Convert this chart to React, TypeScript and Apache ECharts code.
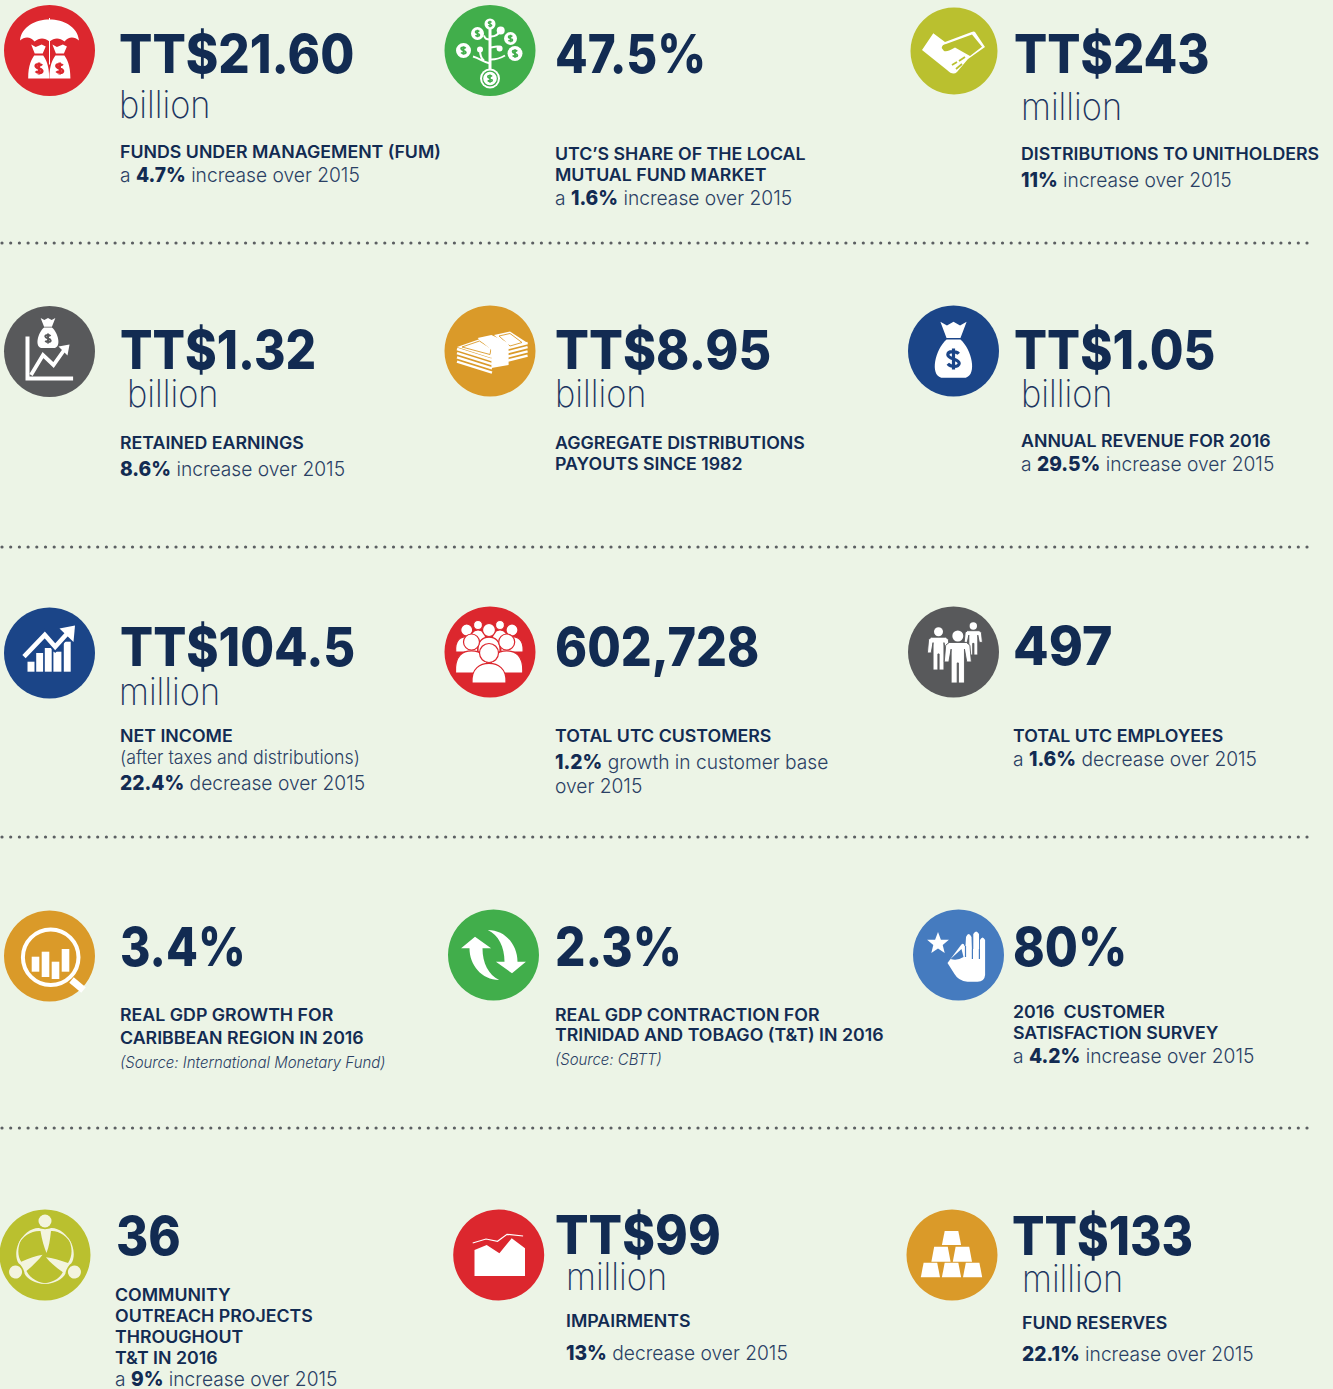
import React, { useEffect, useRef } from "react";
import * as echarts from "echarts";

// ---------- content ----------
const headlines = ["TT$21.60","47.5%","TT$243","TT$1.32","TT$8.95","TT$1.05","TT$104.5","602,728","497","3.4%","2.3%","80%","36","TT$99","TT$133"];
const units = ["billion","","million","billion","billion","billion","million","","","","","","","million","million"];
const titleLines: string[][] = [
  ["FUNDS UNDER MANAGEMENT (FUM)"],
  ["UTC’S SHARE OF THE LOCAL","MUTUAL FUND MARKET"],
  ["DISTRIBUTIONS TO UNITHOLDERS"],
  ["RETAINED EARNINGS"],
  ["AGGREGATE DISTRIBUTIONS","PAYOUTS SINCE 1982"],
  ["ANNUAL REVENUE FOR 2016"],
  ["NET INCOME"],
  ["TOTAL UTC CUSTOMERS"],
  ["TOTAL UTC EMPLOYEES"],
  ["REAL GDP GROWTH FOR","CARIBBEAN REGION IN 2016"],
  ["REAL GDP CONTRACTION FOR","TRINIDAD AND TOBAGO (T&T) IN 2016"],
  ["2016  CUSTOMER","SATISFACTION SURVEY"],
  ["COMMUNITY","OUTREACH PROJECTS","THROUGHOUT","T&T IN 2016"],
  ["IMPAIRMENTS"],
  ["FUND RESERVES"],
];
const noteLines: string[][] = [
  ["a {b|4.7%} increase over 2015"],
  ["a {b|1.6%} increase over 2015"],
  ["{b|11%} increase over 2015"],
  ["{b|8.6%} increase over 2015"],
  [],
  ["a {b|29.5%} increase over 2015"],
  ["{s|(after taxes and distributions)}","{b|22.4%} decrease over 2015"],
  ["{b|1.2%} growth in customer base","over 2015"],
  ["a {b|1.6%} decrease over 2015"],
  ["{i|(Source: International Monetary Fund)}"],
  ["{i|(Source: CBTT)}"],
  ["a {b|4.2%} increase over 2015"],
  ["a {b|9%} increase over 2015"],
  ["{b|13%} decrease over 2015"],
  ["{b|22.1%} increase over 2015"],
];

// ---------- layout (left x, centre y of each line) ----------
const bigX = [119,555,1014,120,555,1014,120,555,1013,120,555,1013,116,555,1012];
const bigY = [53,53,53,349,349,349,646,646,646,946,946,946,1235,1235,1235];
const bigSx = [.914,.88,.91,.89,.93,.905,.907,.9,.96,.86,.885,.887,.91,.92,.89];
const unitX = [119,0,1021,127,555,1021,119,0,0,0,0,0,0,566,1022];
const unitY = [104,0,106,393,393,393,691,0,0,0,0,0,0,1276,1278];
const textX = [120,555,1021,120,555,1021,120,555,1013,120,555,1013,115,566,1022];
const titleY: number[][] = [[152],[154,175],[154],[443],[443,464],[441],[736],[736],[736],[1015,1038],[1015,1035],[1012,1033],[1295,1316,1337,1358],[1321],[1323]];
const noteY: number[][] = [[175],[198],[180],[469],[],[464],[757,783],[762,786],[759],[1062],[1059],[1056],[1379],[1353],[1354]];
const iconCx = [49.5,490,954,49.5,490,953.5,49.5,490,953.5,49.5,493.5,958.5,45,498.7,952];
const iconCy = [50.5,50.5,51,351.5,351,351,653,652,652,956,955,955,1255,1255,1255];
const iconR = [45.5,45.5,43.5,45.5,45.5,45.5,45.5,45.5,45.5,45.5,45.5,45.5,45.5,45.5,45.5];
const RED="#dc272e", GREEN="#41ae4b", OLIVE="#bac02f", GREY="#58595b", AMBER="#da9a29", NAVY="#1b4588", BLUE="#457bbf";
const iconColors = [RED,GREEN,OLIVE,GREY,AMBER,NAVY,NAVY,RED,GREY,AMBER,GREEN,BLUE,OLIVE,RED,AMBER];
const ruleYs = [243,547,837,1128];

const INK = "#122b52";
const SOFT = "#2a4064";
const BG = "#ecf4e6";
const FONT = "Inter";

// ---------- icon drawing helpers ----------
type Layer = { d: string; fill?: string; stroke?: string; lw?: number; rot?: number };
const W = "#ffffff";
const n = (v: number) => v.toFixed(2);
const dot = (x: number, y: number, r: number) =>
  `M ${n(x - r)} ${n(y)} A ${r} ${r} 0 1 1 ${n(x + r)} ${n(y)} A ${r} ${r} 0 1 1 ${n(x - r)} ${n(y)} Z`;
const dollar = (x: number, y: number, h: number) => {
  const s = h / 2;
  return `M ${n(x+.55*s)} ${n(y-.55*s)} C ${n(x+.3*s)} ${n(y-.85*s)} ${n(x-.6*s)} ${n(y-.9*s)} ${n(x-.6*s)} ${n(y-.45*s)} C ${n(x-.6*s)} ${n(y)} ${n(x+.6*s)} ${n(y)} ${n(x+.6*s)} ${n(y+.45*s)} C ${n(x+.6*s)} ${n(y+.9*s)} ${n(x-.3*s)} ${n(y+.85*s)} ${n(x-.6*s)} ${n(y+.5*s)} M ${n(x)} ${n(y-1.1*s)} L ${n(x)} ${n(y+1.1*s)}`;
};
const bag = (c: number, t: number, w: number, h: number) =>
  `M ${n(c-.32*w)} ${n(t)} L ${n(c-.16*w)} ${n(t+.07*h)} L ${n(c)} ${n(t)} L ${n(c+.16*w)} ${n(t+.07*h)} L ${n(c+.32*w)} ${n(t)} L ${n(c+.17*w)} ${n(t+.29*h)} L ${n(c-.17*w)} ${n(t+.29*h)} Z ` +
  `M ${n(c-.17*w)} ${n(t+.32*h)} C ${n(c-.45*w)} ${n(t+.5*h)} ${n(c-.58*w)} ${n(t+.95*h)} ${n(c-.3*w)} ${n(t+h)} L ${n(c+.3*w)} ${n(t+h)} C ${n(c+.58*w)} ${n(t+.95*h)} ${n(c+.45*w)} ${n(t+.5*h)} ${n(c+.17*w)} ${n(t+.32*h)} Z`;
// wide, flat-bottomed sack with a small knotted neck
const sack = (c: number): string =>
  `M ${n(c-7.5)} -6 L ${n(c-3)} -3.5 L ${n(c+3)} -6 L ${n(c+7)} -4 L ${n(c+4)} 3 L ${n(c-4)} 3 Z ` +
  `M ${n(c-4.5)} 5 L ${n(c+4.5)} 5 C ${n(c+7)} 9 ${n(c+10.5)} 14 ${n(c+10.5)} 28 L ${n(c-10.5)} 28 C ${n(c-10.5)} 14 ${n(c-7)} 9 ${n(c-4.5)} 5 Z`;
const coin = (x: number, y: number, r: number): Layer[] => [
  { d: dot(x, y, r), fill: W },
  { d: dollar(x, y, r * 1.05), stroke: GREEN, lw: Math.max(1.1, r * 0.24) },
];
const bust = (x: number, hy: number, r: number, bottom: number, w: number): Layer[] => [
  { d: `M ${n(x-w)} ${n(bottom)} C ${n(x-w-1)} ${n(hy+r*1.6)} ${n(x-w*.5)} ${n(hy+r*1.1)} ${n(x)} ${n(hy+r*1.1)} C ${n(x+w*.5)} ${n(hy+r*1.1)} ${n(x+w+1)} ${n(hy+r*1.6)} ${n(x+w)} ${n(bottom)} Z`, fill: W, stroke: RED, lw: 1.2 },
  { d: dot(x, hy, r), fill: W, stroke: RED, lw: 1.2 },
];
const figure = (x: number, hy: number, r: number, feet: number): Layer[] => {
  const t = hy + r + 1, w = r * 2.2, hip = t + (feet - t) * .48;
  return [
    { d: `M ${n(x-w*.72)} ${n(t)} L ${n(x+w*.72)} ${n(t)} L ${n(x+w)} ${n(t+r*.5)} L ${n(x+w*1.12)} ${n(hip)} L ${n(x+w*.74)} ${n(hip)} L ${n(x+w*.55)} ${n(t+r*1.2)} L ${n(x+w*.55)} ${n(feet)} L ${n(x+.6)} ${n(feet)} L ${n(x+.6)} ${n(hip+1)} L ${n(x-.6)} ${n(hip+1)} L ${n(x-.6)} ${n(feet)} L ${n(x-w*.55)} ${n(feet)} L ${n(x-w*.55)} ${n(t+r*1.2)} L ${n(x-w*.74)} ${n(hip)} L ${n(x-w*1.12)} ${n(hip)} L ${n(x-w)} ${n(t+r*.5)} Z`, fill: W, stroke: GREY, lw: 0.9 },
    { d: dot(x, hy, r), fill: W },
  ];
};
const trap = (x: number, t: number, b: number) => `M ${n(x-6.8)} ${t} L ${n(x+6.8)} ${t} L ${n(x+9.6)} ${b} L ${n(x-9.6)} ${b} Z`;
const bar = (a: number, b: number, t: number, bot: number) => `M ${a} ${t} L ${b} ${t} L ${b} ${bot} L ${a} ${bot} Z`;

const CREAM = "#f3f4de";
const icons: Layer[][] = [
  // umbrella over two money bags
  [
    { d: "M -29.5 -10 C -28 -24 -14 -31 0 -31 C 14 -31 28 -24 29.5 -10 C 25 -14 19 -14 15 -9 C 10 -13 5 -13 0 -9 C -5 -13 -10 -13 -15 -9 C -19 -14 -25 -14 -29.5 -10 Z", fill: W },
    { d: "M 0 -32.5 L 0 -28", stroke: W, lw: 1 },
    { d: "M 0 -10 L 0 14", stroke: W, lw: 1 },
    { d: sack(-10.8), fill: W },
    { d: sack(10.4), fill: W },
    { d: dollar(-10.5, 18, 11), stroke: RED, lw: 2.6 },
    { d: dollar(10.2, 18, 11), stroke: RED, lw: 2.6 },
  ],
  // money tree
  [
    { d: "M 0 20 L 0 -22", stroke: W, lw: 3 },
    { d: "M 0 -3 C 6 -3 8 -6 9.6 -2", stroke: W, lw: 2 },
    { d: "M 0 13 C -6 12 -10 8 -17 6 M -6 10 C -9 8 -10 4 -10 -1", stroke: W, lw: 2 },
    { d: "M 1 9 C 6 9 10 8 15 5 M 1 -14 C 4 -14 8 -15 10.7 -20 M 0 -11 C -4 -11 -5 -12 -6 -15", stroke: W, lw: 2 },
    { d: dot(10.7, -20, 4), fill: W },
    { d: dot(-10, -1, 3), fill: W },
    { d: dot(9.6, -2, 3), fill: W },
    ...coin(0, -26.5, 5.5),
    ...coin(-12.5, -17, 6.5),
    ...coin(20.5, -12, 6.5),
    ...coin(25, 3, 7.5),
    ...coin(-26.5, 0, 7.5),
    { d: dot(0, 28, 10), fill: W },
    { d: dot(0, 28, 8), fill: GREEN },
    { d: dot(0, 28, 6.8), fill: W },
    { d: dollar(0, 28, 7.5), stroke: GREEN, lw: 1.6 },
  ],
  // handshake
  [
    { d: "M -32 -1 L -20.7 -17.7 L -9 -9 L 17.7 -19 Q 20 -20 21 -19 L 31 -4 L 14 8 L 3 21 Q -1 25 -7 19 Z", fill: W },
    { d: "M -12.3 -3 Q -12 -6.5 -8 -7 L 18 -16.5 L 28 -4.3 L 16 5 L 1 -3.5 Q -6 1 -10 0 Z", fill: OLIVE },
    { d: "M -2 14 L 3 11 M 2 18 L 8 13 M 5 10 L 11 6", stroke: OLIVE, lw: 1.8 },
  ],
  // chart with money bag
  [
    { d: "M -22 -15 L -22 27 L 23.6 27", stroke: W, lw: 4 },
    { d: "M -18.5 23.5 L -6.5 3.5 L 4 13.5 L 15 -2", stroke: W, lw: 3.8 },
    { d: "M 20 -7 L 9 -5 L 18 4 Z", fill: W },
    { d: bag(-1.5, -33.5, 23, 30), fill: W },
    { d: dollar(-1.5, -13, 9), stroke: GREY, lw: 2 },
  ],
  // stack of bills
  [
    ...[0, 4.2, 8.4, 12.6].map((i) => ({ d: `M -33 ${-2 + i} L 2 ${9 + i}`, stroke: W, lw: 2.4 })),
    ...[0, 4.2, 8.4, 12.6].map((i) => ({ d: `M 18 ${-3 + i} L 37.6 ${-8 + i}`, stroke: W, lw: 2.4 })),
    { d: "M -33 -4 L -10 -12 L 6 -2 L 1.4 7 Z", fill: W },
    { d: "M -28 -4 L -10.5 -10 L 1 -2.5 L 0 3.5 Z", stroke: AMBER, lw: 0.9 },
    { d: "M 4 -16 L 20 -19.5 L 37.6 -8 L 19 -3 Z", fill: W },
    { d: "M 9 -15 L 20 -17.5 L 32 -8.5 L 20 -5 Z", stroke: AMBER, lw: 0.9 },
    { d: "M -12.4 -13 L 1.4 -16 L 18.6 -8 L 18.6 14 L 1.4 17 L 1.4 -1 Z", fill: W },
  ],
  // money bag
  [
    { d: bag(0, -29.3, 41, 56), fill: W },
    { d: dollar(0, 8, 19), stroke: NAVY, lw: 3.2 },
  ],
  // bars and arrow
  [
    { d: bar(-22, -15, 8.7, 18.7), fill: W },
    { d: bar(-13.3, -6.4, 0, 18.7), fill: W },
    { d: bar(-4.7, 2.2, -5, 18.7), fill: W },
    { d: bar(3.9, 11.9, -1.3, 18.7), fill: W },
    { d: bar(14.3, 21.2, -11.3, 18.7), fill: W },
    { d: "M -25.5 3.7 L -4.7 -18 L 5.7 -6.3 L 20 -22", stroke: NAVY, lw: 8.5 },
    { d: "M -25.5 3.7 L -4.7 -18 L 5.7 -6.3 L 20 -22", stroke: W, lw: 4.6 },
    { d: "M 25.5 -27.5 L 10 -24.5 L 24 -11 Z", fill: W },
  ],
  // crowd
  [
    ...bust(-23.3, -22, 6, 0, 11),
    ...bust(22, -22, 6, 0, 11),
    ...bust(-12, -27, 4.5, -5, 8),
    ...bust(10, -27, 4.5, -5, 8),
    ...bust(-1, -22, 6.5, 0, 11),
    ...bust(-18.5, -10, 8, 21, 16),
    ...bust(16.7, -10, 8, 21, 16),
    ...bust(-1, 1, 9.5, 31, 17),
  ],
  // three people
  [
    ...figure(19.8, -26, 3.7, 3),
    ...figure(-15, -20.3, 4.5, 18),
    ...figure(4.3, -16, 5.5, 31),
  ],
  // magnifier with bars
  [
    { d: "M 22 24 L 34 34", stroke: W, lw: 7 },
    { d: dot(1.2, 1.3, 27.8), stroke: W, lw: 4 },
    { d: bar(-17.8, -10.2, 0.7, 15.7), fill: W },
    { d: bar(-7.8, -0.2, -4.3, 21), fill: W },
    { d: bar(2.2, 9.8, 5.7, 23), fill: W },
    { d: bar(12.2, 19.8, -7, 15.7), fill: W },
  ],
  // two arrows
  [
    { d: "M -18.5 -18.3 L -32.4 -6.7 L -24 -6.7 C -24 10 -12 25 5.7 25 C -5 20 -11 8 -11 -6.7 L -2.4 -6.7 Z", fill: W },
    { d: "M 18.5 18.3 L 32.4 6.7 L 24 6.7 C 24 -10 12 -25 -5.7 -25 C 5 -20 11 -8 11 6.7 L 2.4 6.7 Z", fill: W },
  ],
  // star and hand
  [
    { d: "M -20.5 -23 L -17.6 -15.3 L -9.6 -15.2 L -15.8 -10 L -13.8 -2 L -20.5 -6.5 L -27.2 -2 L -25.2 -10 L -31.4 -15.2 L -23.4 -15.3 Z", fill: W },
    { d: "M -11 8 L 2.5 -10 Q 5 -13 6 -9 L 7 -9 L 7.5 -18 Q 10 -24 13 -18 L 13.4 -6 L 14.8 -6 L 14.8 -21 Q 17.6 -26 20.5 -21 L 20.6 -6 L 21.5 -6 L 21.5 -15 Q 24 -20 26.6 -15 L 26.6 20 Q 26 26.7 19 26.7 L 9 26.7 Q 0 26 -4 19 Z", fill: W },
    { d: "M -8 4 L 3 -6 L 5 2 Q -1 6 -8 4 Z", fill: BLUE },
    { d: "M 7 -9 L 7 2 M 13.9 -6 L 13.9 4 M 20.9 -6 L 20.9 4", stroke: BLUE, lw: 1.2 },
  ],
  // community ring
  ...[[0, 2.0944, 4.18879]].map((rots) => rots.flatMap((rot) => [
    { d: dot(0, -34, 6.5), fill: CREAM, rot },
    { d: "M -27 -10 C -23 -21 -13 -27.5 -6 -27 C -3 -25.5 3 -25.5 6 -27 C 13 -27.5 23 -21 27 -10 C 22 -19 14 -24.5 6 -24 C 5 -15 4 -8 1.5 -2 C -1 -8 -3 -15 -4.5 -24 C -14 -24.5 -22 -19 -27 -10 Z", fill: CREAM, rot },
  ])),
  // area chart
  [
    { d: "M -24.2 21 L -24.2 -5 L -12 -10 L 0.7 -1.7 L 13 -16.7 L 26.3 -6.7 L 26.3 21 Z", fill: W },
    { d: "M -26 -12 L -12.7 -16 L -1.2 -13.7 L 8.3 -20.7 L 24.4 -19", stroke: W, lw: 1.2 },
  ],
  // gold bars
  [
    { d: trap(-0.5, -24, -10), fill: W },
    { d: trap(-11, -8.3, 6.7), fill: W },
    { d: trap(10.4, -8.3, 6.7), fill: W },
    { d: trap(-21.6, 7.7, 22.3), fill: W },
    { d: trap(-0.5, 7.7, 22.3), fill: W },
    { d: trap(20.6, 7.7, 22.3), fill: W },
  ],
];

// ---------- text styles ----------
const BIG = { size: 54, weight: 800 as number | string, lh: 44 };
const UNIT = { size: 38, weight: 200 as number | string, lh: 30 };
const TITLE = { size: 17, weight: 600 as number | string, lh: 19 };
const NOTE = { size: 20, weight: 300 as number | string, lh: 18 };
const UNIT_SX = 0.905, TITLE_SX = 1.045, NOTE_SX = 0.96;

const richStyles = {
  b: { fontFamily: FONT, fontSize: 20, fontWeight: 800, fill: INK, color: INK, lineHeight: 18 },
  s: { fontFamily: FONT, fontSize: 18.5, fontWeight: 300, fill: SOFT, color: SOFT, lineHeight: 18 },
  i: { fontFamily: FONT, fontSize: 15.6, fontWeight: 300, fontStyle: "italic", fill: SOFT, color: SOFT, lineHeight: 18 },
};

function textEl(text: string, x: number, y: number, st: typeof BIG, sx: number, color: string, rich?: boolean) {
  const style: any = {
    text,
    x: 0,
    y: 0,
    fontFamily: FONT,
    fontSize: st.size,
    fontWeight: st.weight,
    lineHeight: st.lh,
    fill: color,
    align: "left",
    verticalAlign: "middle",
  };
  if (rich) style.rich = richStyles;
  return { type: "text", x, y, scaleX: sx, silent: true, style };
}

let shapeCount = 0;
const shapeNames = new Map<string, string>();
function shapeFor(d: string) {
  let name = shapeNames.get(d);
  if (!name) {
    name = "iconShape" + shapeCount++;
    echarts.graphic.registerShape(name, echarts.graphic.extendPath(d, {}) as any);
    shapeNames.set(d, name);
  }
  return name;
}

function buildElements() {
  const els: any[] = [];
  ruleYs.forEach((y) => {
    els.push({
      type: "line", silent: true,
      shape: { x1: 2, y1: y, x2: 1307, y2: y },
      style: { stroke: "#5c5f62", lineWidth: 3.2, lineCap: "round", lineDash: [0.01, 8.69] },
    });
  });
  headlines.forEach((h, i) => {
    const cx = iconCx[i], cy = iconCy[i];
    els.push({ type: "circle", silent: true, shape: { cx, cy, r: iconR[i] }, style: { fill: iconColors[i] } });
    icons[i].forEach((l) => {
      els.push({
        type: shapeFor(l.d), x: cx, y: cy, rotation: l.rot || 0, silent: true,
        style: {
          fill: l.fill || "none",
          stroke: l.stroke || "none",
          lineWidth: l.lw || 0,
          lineCap: "butt",
          lineJoin: "miter",
        },
      });
    });
    els.push(textEl(h, bigX[i], bigY[i], BIG, bigSx[i], INK));
    if (units[i]) els.push(textEl(units[i], unitX[i], unitY[i], UNIT, UNIT_SX, "#1c3560"));
    titleLines[i].forEach((t, k) => els.push(textEl(t, textX[i], titleY[i][k], TITLE, TITLE_SX, INK)));
    noteLines[i].forEach((t, k) => els.push(textEl(t, textX[i], noteY[i][k], NOTE, NOTE_SX, SOFT, true)));
  });
  return els;
}

export default function App() {
  const ref = useRef<HTMLDivElement>(null);
  useEffect(() => {
    document.body.style.margin = "0";
    document.body.style.background = BG;
    const chart = echarts.init(ref.current!, undefined, { renderer: "svg" });
    chart.setOption({ animation: false, backgroundColor: BG, graphic: { elements: buildElements() } });
    return () => chart.dispose();
  }, []);
  return <div ref={ref} style={{ width: 1333, height: 1389 }} />;
}
